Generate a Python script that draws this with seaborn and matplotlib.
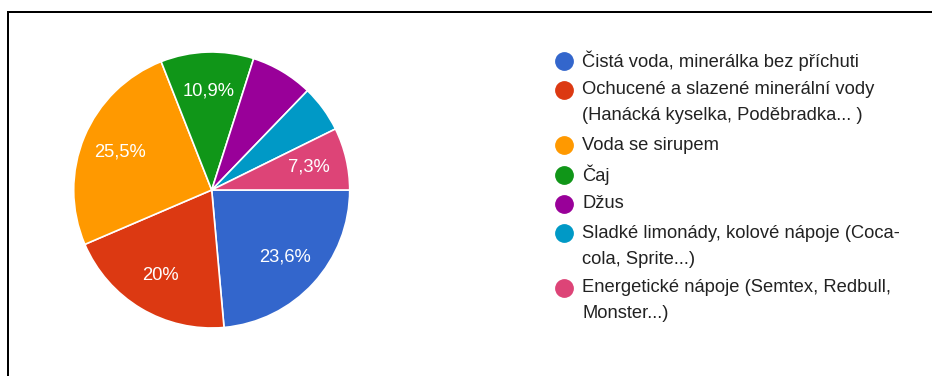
import matplotlib
matplotlib.use("Agg")
import matplotlib.pyplot as plt
from matplotlib.lines import Line2D
import seaborn as sns

# Survey answers (share of respondents, %)
categories = [
    "Čistá voda, minerálka bez příchuti",
    "Ochucené a slazené minerální vody\n(Hanácká kyselka, Poděbradka... )",
    "Voda se sirupem",
    "Čaj",
    "Džus",
    "Sladké limonády, kolové nápoje (Coca-\ncola, Sprite...)",
    "Energetické nápoje (Semtex, Redbull,\nMonster...)",
]
shares = [23.6, 20.0, 25.5, 10.9, 7.3, 5.5, 7.3]
slice_labels = ["23,6%", "20%", "25,5%", "10,9%", "", "", "7,3%"]
colors = ["#3366cc", "#dc3912", "#ff9900", "#109618", "#990099", "#0099c6", "#dd4477"]

sns.set_theme(style="white")
plt.rcParams["font.family"] = ["Liberation Sans", "DejaVu Sans"]
palette = sns.color_palette(colors)

W, H = 932, 376
fig = plt.figure(figsize=(W / 100, H / 100), dpi=100)
fig.patch.set_facecolor("white")

# Pie
cx, cy, r = 211.7, 186.0, 138.0
ax = fig.add_axes([(cx - r) / W, (cy - r) / H, 2 * r / W, 2 * r / H])
wedges, texts = ax.pie(
    shares,
    colors=palette,
    startangle=0,
    counterclock=False,
    labels=slice_labels,
    labeldistance=0.72,
    wedgeprops=dict(edgecolor="white", linewidth=1.2),
    textprops=dict(color="white", fontsize=13.2, ha="center", va="center"),
)
for t in texts:
    t.set_ha("center")
    t.set_va("center")
ax.set_xlim(-1, 1)
ax.set_ylim(-1, 1)
ax.set_aspect("equal")
ax.axis("off")

# Legend
legend_rows = [60.7, 90, 145, 175, 204, 233, 288]
line_gap = 26
for cat, col, y in zip(categories, palette, legend_rows):
    fig.add_artist(Line2D([564 / W], [1 - y / H], marker="o", markersize=12.5,
                          markerfacecolor=col, markeredgecolor=col, linestyle="none"))
    for i, line in enumerate(cat.split("\n")):
        fig.text(582 / W, 1 - (y + i * line_gap) / H, line, fontsize=13.2,
                 color="#222222", ha="left", va="center")

# Frame
lw = 2 * 72 / 100
fig.add_artist(Line2D([7.5 / W, 7.5 / W], [0, 1 - 11.5 / H], color="black", linewidth=lw,
                      solid_capstyle="projecting"))
fig.add_artist(Line2D([7.5 / W, 1], [1 - 11.5 / H, 1 - 11.5 / H], color="black", linewidth=lw,
                      solid_capstyle="projecting"))

fig.savefig("out.png", dpi=100, facecolor="white")
